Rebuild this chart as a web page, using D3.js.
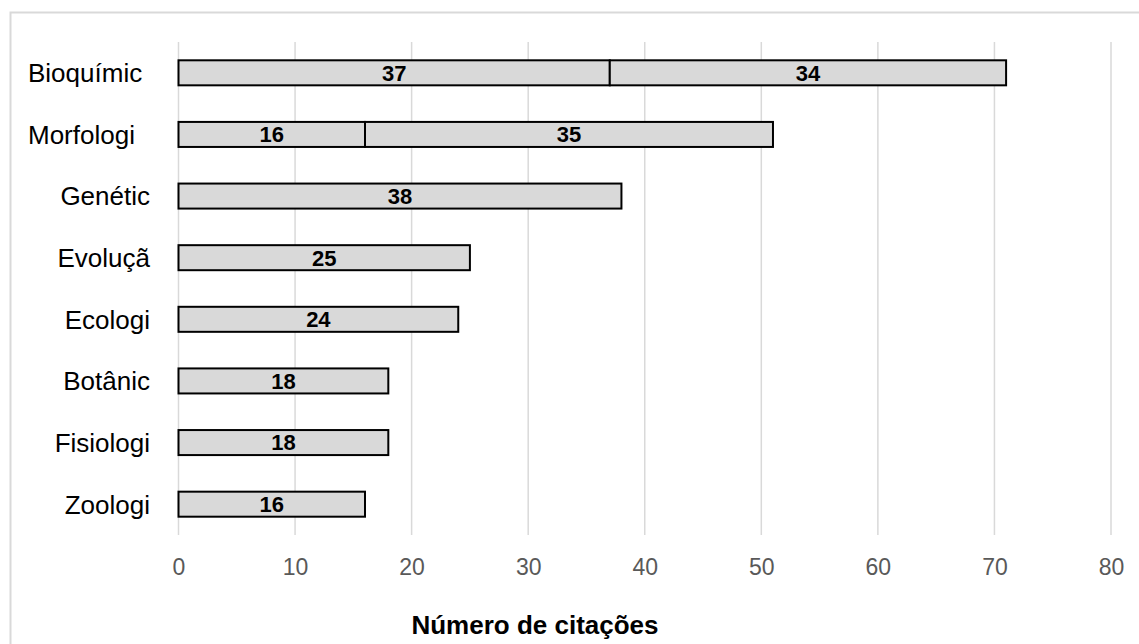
<!DOCTYPE html>
<html>
<head>
<meta charset="utf-8">
<script src="https://cdn.jsdelivr.net/npm/d3@7"></script>
<style>
  html, body { margin: 0; padding: 0; background: #fff; }
  svg { display: block; }
  text { font-family: "Liberation Sans", Arial, sans-serif; }
</style>
</head>
<body>
<svg id="chart" width="1139" height="644"></svg>
<script>
// Áreas (rótulos truncados como no gráfico original)
const categories = ["Bioquímic", "Morfologi", "Genétic", "Evoluçã", "Ecologi", "Botânic", "Fisiologi", "Zoologi"];
// Duas séries empilhadas
const series1 = [37, 16, 38, 25, 24, 18, 18, 16];
const series2 = [34, 35, 0, 0, 0, 0, 0, 0];
const xTicks = [0, 10, 20, 30, 40, 50, 60, 70, 80];
const xTitle = "Número de citações";

const svg = d3.select("#chart");
const W = 1139, H = 644;
const plot = { left: 178.5, right: 1111, top: 42, bottom: 535 };

// Moldura da área do gráfico
svg.append("rect")
  .attr("x", 10.5).attr("y", 12.5)
  .attr("width", 1140).attr("height", 700)
  .attr("fill", "#fff")
  .attr("stroke", "#d9d9d9").attr("stroke-width", 2);

const x = d3.scaleLinear().domain([0, 80]).range([plot.left, plot.right]);
const y = d3.scaleBand().domain(categories)
  .range([plot.top, plot.bottom])
  .paddingInner(0.594).paddingOuter(0.297);

// Linhas de grade verticais
svg.append("g").selectAll("line").data(xTicks).join("line")
  .attr("x1", d => x(d)).attr("x2", d => x(d))
  .attr("y1", plot.top).attr("y2", plot.bottom)
  .attr("stroke", "#d9d9d9").attr("stroke-width", 1.5);

// Eixo X (apenas rótulos)
const xAxis = svg.append("g")
  .attr("transform", `translate(0,${plot.bottom})`)
  .call(d3.axisBottom(x).tickValues(xTicks).tickSize(0).tickPadding(24).tickFormat(d3.format("d")));
xAxis.select(".domain").remove();
xAxis.selectAll("text")
  .attr("font-family", "Liberation Sans, Arial, sans-serif")
  .attr("font-size", 23).attr("fill", "#595959");

// Dados empilhados
const rows = categories.map((c, i) => ({ cat: c, s1: series1[i], s2: series2[i] }));
const stacked = d3.stack().keys(["s1", "s2"])(rows);

const layers = svg.append("g").selectAll("g").data(stacked).join("g");
layers.selectAll("rect")
  .data(d => d.filter(p => p[1] - p[0] > 0))
  .join("rect")
  .attr("x", d => x(d[0]))
  .attr("y", d => y(d.data.cat))
  .attr("width", d => x(d[1]) - x(d[0]))
  .attr("height", y.bandwidth())
  .attr("fill", "#d9d9d9")
  .attr("stroke", "#000").attr("stroke-width", 2);

// Rótulos de valor
layers.selectAll("text")
  .data(d => d.filter(p => p[1] - p[0] > 0))
  .join("text")
  .attr("x", d => (x(d[0]) + x(d[1])) / 2)
  .attr("y", d => y(d.data.cat) + y.bandwidth() / 2)
  .attr("dy", "0.36em")
  .attr("text-anchor", "middle")
  .attr("font-size", 22).attr("font-weight", "bold").attr("fill", "#000")
  .text(d => d[1] - d[0]);

// Rótulos das categorias: alinhados à direita; os longos começam junto à moldura
const catLabels = svg.append("g").selectAll("text").data(categories).join("text")
  .attr("y", d => y(d) + y.bandwidth() / 2)
  .attr("dy", "0.36em")
  .attr("font-size", 26).attr("fill", "#000")
  .text(d => d);
catLabels.each(function () {
  const t = d3.select(this);
  const w = this.getComputedTextLength();
  if (w > 100) t.attr("x", 28).attr("text-anchor", "start");
  else t.attr("x", 150).attr("text-anchor", "end");
});

// Título do eixo
svg.append("text")
  .attr("x", 535).attr("y", 634)
  .attr("text-anchor", "middle")
  .attr("font-size", 26).attr("font-weight", "bold").attr("fill", "#000")
  .text(xTitle);
</script>
</body>
</html>
